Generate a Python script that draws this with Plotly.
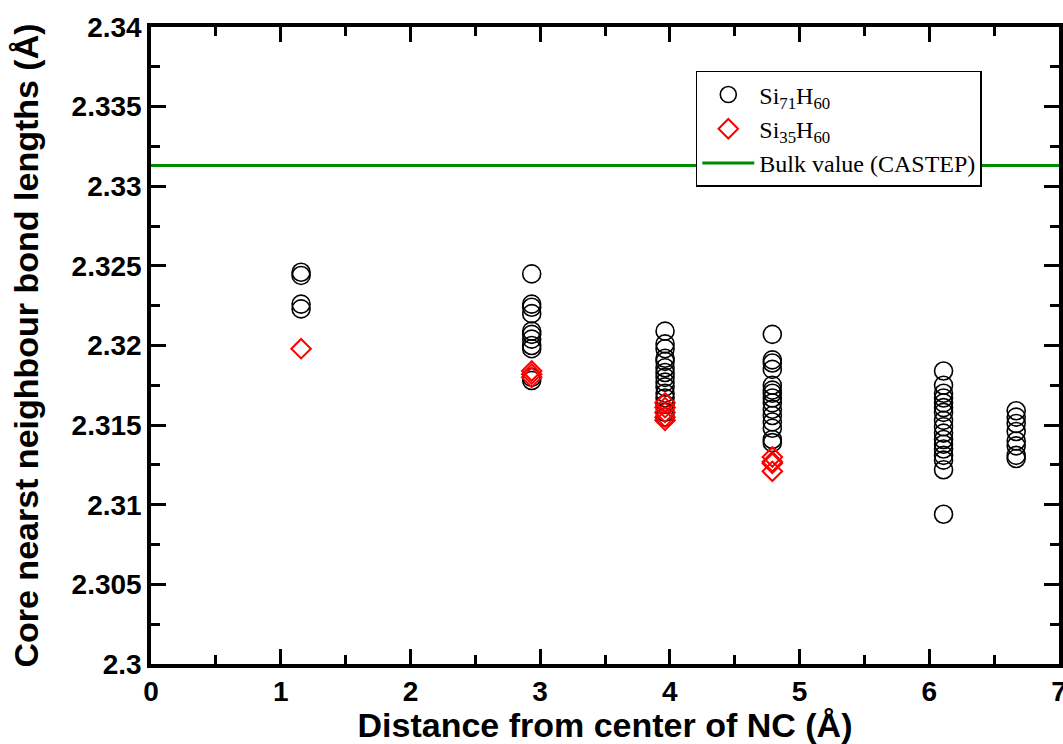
import plotly.graph_objects as go

# Si71H60 (circles)
x71 = [1.157]*4 + [2.935]*11 + [3.963]*15 + [4.79]*15 + [6.11]*17 + [6.67]*8
y71 = [2.3246, 2.3244, 2.3226, 2.3223,
       2.3245, 2.3226, 2.3224, 2.3220, 2.3209, 2.3207, 2.3204, 2.3200, 2.3198, 2.3180, 2.3178,
       2.3209, 2.3201, 2.3198, 2.3192, 2.3190, 2.3186, 2.3183, 2.3180, 2.3177, 2.3174, 2.3170, 2.3167, 2.3163, 2.3158, 2.3155,
       2.3207, 2.3191, 2.3189, 2.3185, 2.3175, 2.3172, 2.3170, 2.3167, 2.3164, 2.3160, 2.3156, 2.3152, 2.3148, 2.3141, 2.3139,
       2.3184, 2.3175, 2.3170, 2.3167, 2.3164, 2.3161, 2.3158, 2.3153, 2.3149, 2.3145, 2.3141, 2.3138, 2.3135, 2.3131, 2.3128, 2.3122, 2.3094,
       2.3159, 2.3155, 2.3151, 2.3146, 2.3140, 2.3137, 2.3131, 2.3129]

# Si35H60 (diamonds)
x35 = [1.157] + [2.935]*3 + [3.963]*5 + [4.79]*4
y35 = [2.3198,
       2.3184, 2.3182, 2.3180,
       2.3164, 2.3161, 2.3158, 2.3155, 2.3153,
       2.3130, 2.3127, 2.3126, 2.3121]

bulk_x = [0, 7]
bulk_y = [2.3313, 2.3313]

xticks = [0, 1, 2, 3, 4, 5, 6, 7]
yticks = [2.30, 2.305, 2.31, 2.315, 2.32, 2.325, 2.33, 2.335, 2.34]
yticktext = ["2.3", "2.305", "2.31", "2.315", "2.32", "2.325", "2.33", "2.335", "2.34"]

fig = go.Figure()
fig.add_trace(go.Scatter(
    x=x71, y=y71, mode="markers", name="Si<sub>71</sub>H<sub>60</sub>",
    marker=dict(symbol="circle-open", size=18, color="black", line=dict(width=1.6, color="black")),
))
fig.add_trace(go.Scatter(
    x=x35, y=y35, mode="markers", name="Si<sub>35</sub>H<sub>60</sub>",
    marker=dict(symbol="diamond-open", size=15, color="red", line=dict(width=2, color="red")),
))
fig.add_trace(go.Scatter(
    x=bulk_x, y=bulk_y, mode="lines", name="Bulk value (CASTEP)",
    line=dict(color="rgb(0,140,0)", width=3),
))

sans = "Liberation Sans, Arial, Helvetica, sans-serif"
axis_common = dict(
    showgrid=False, zeroline=False, showline=True, linecolor="black", linewidth=3.5,
    mirror="ticks", ticks="inside", ticklen=15, tickwidth=3, tickcolor="black",
    tickfont=dict(family=sans, size=28, color="black", weight="bold"),
    automargin=False, ticklabeloverflow="allow",
)

fig.update_xaxes(
    range=[0, 7], tickvals=xticks, ticktext=[str(v) for v in xticks],
    minor=dict(ticks="inside", ticklen=9, tickwidth=3, tickcolor="black", dtick=0.5, showgrid=False),
    title=dict(text="Distance from center of NC (Å)", standoff=4,
               font=dict(family=sans, size=34, color="black", weight="bold")),
    **axis_common,
)
fig.update_yaxes(
    range=[2.30, 2.34], tickvals=yticks, ticktext=yticktext,
    minor=dict(ticks="inside", ticklen=9, tickwidth=3, tickcolor="black", dtick=0.0025, tick0=2.30, showgrid=False),
    title=dict(text="Core nearst neighbour bond lengths (Å)", standoff=24,
               font=dict(family=sans, size=34, color="black", weight="bold")),
    **axis_common,
)

fig.update_layout(
    width=1063, height=744,
    margin=dict(l=151, r=4, t=27, b=80),
    plot_bgcolor="white", paper_bgcolor="white",
    showlegend=True,
    legend=dict(
        x=0.600, y=0.931, xanchor="left", yanchor="top",
        bgcolor="white", bordercolor="black", borderwidth=1.5,
        font=dict(family="Liberation Serif, Times New Roman, serif", size=24, color="black"),
        tracegroupgap=0, itemsizing="trace", itemwidth=52,
    ),
)

fig.write_html("out.html")
